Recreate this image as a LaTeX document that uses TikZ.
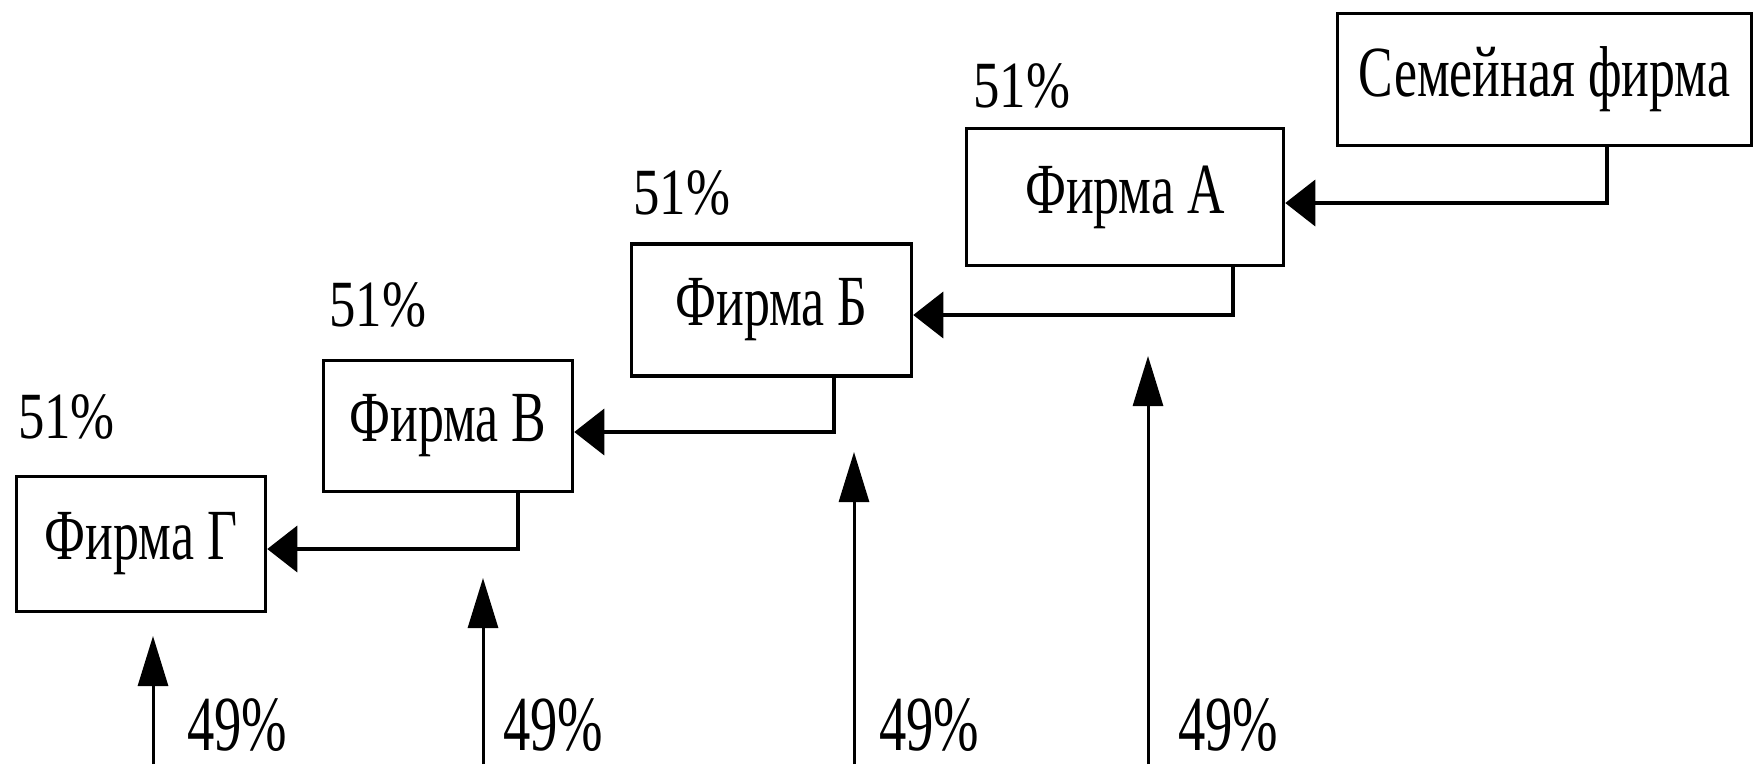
\documentclass[tikz,border=0pt]{standalone}
\usepackage{fontspec}
\setmainfont{Liberation Serif}
\newfontfamily\boxf[FakeStretch=0.72]{Liberation Serif}
\newfontfamily\pctf[FakeStretch=0.80]{Liberation Serif}
\newfontfamily\lowf[FakeStretch=0.70]{Liberation Serif}
\usetikzlibrary{arrows.meta}
\tikzset{
  firm/.style={draw=black, line width=3.5pt, inner sep=0pt, align=center,
    font=\boxf\fontsize{72}{80}\selectfont},
  pct/.style={anchor=base west, inner sep=0pt, font=\pctf\fontsize{66}{70}\selectfont},
  lowpct/.style={anchor=base west, inner sep=0pt, font=\lowf\fontsize{78}{82}\selectfont},
  harrow/.style={line width=3.5pt, -{Triangle[length=30pt,width=46pt]}},
  varrow/.style={line width=3pt, -{Triangle[length=50pt,width=30pt]}},
}
\begin{document}
\begin{tikzpicture}[x=1pt,y=-1pt]
\useasboundingbox (0,0) rectangle (1762,764);
% boxes
\node[firm, minimum width=414, minimum height=132] (sem) at (1544.5,79.5) {Семейная фирма};
\node[firm, minimum width=317, minimum height=137] (a) at (1125,197) {Фирма А};
\node[firm, minimum width=280, minimum height=132] (b) at (771.5,310) {Фирма Б};
\node[firm, minimum width=249, minimum height=131] (v) at (448,426) {Фирма В};
\node[firm, minimum width=249, minimum height=135] (g) at (141,544) {Фирма Г};
% 51% labels
\node[pct] (pa) at (973,107) {51\%};
\node[pct] (pb) at (633,214) {51\%};
\node[pct] (pv) at (329,326) {51\%};
\node[pct] (pg) at (18,438) {51\%};
% chain connectors
\draw[harrow] ([xshift=62.5]sem.south) |- ([yshift=-6]a.east);
\draw[harrow] ([xshift=108]a.south) |- ([yshift=-5]b.east);
\draw[harrow] ([xshift=62.5]b.south) |- ([yshift=-6]v.east);
\draw[harrow] ([xshift=70]v.south) |- ([yshift=-5]g.east);
% up arrows
\coordinate (t1) at (153,764); \coordinate (h1) at (153,636);
\coordinate (t2) at (483,764); \coordinate (h2) at (483,578);
\coordinate (t3) at (854,764); \coordinate (h3) at (854,452);
\coordinate (t4) at (1148,764); \coordinate (h4) at (1148,356);
\draw[varrow] (t1) -- (h1);
\draw[varrow] (t2) -- (h2);
\draw[varrow] (t3) -- (h3);
\draw[varrow] (t4) -- (h4);
% 49% labels
\node[lowpct] (l1) at (187,750) {49\%};
\node[lowpct] (l2) at (503,750) {49\%};
\node[lowpct] (l3) at (879,750) {49\%};
\node[lowpct] (l4) at (1178,750) {49\%};
\end{tikzpicture}
\end{document}
